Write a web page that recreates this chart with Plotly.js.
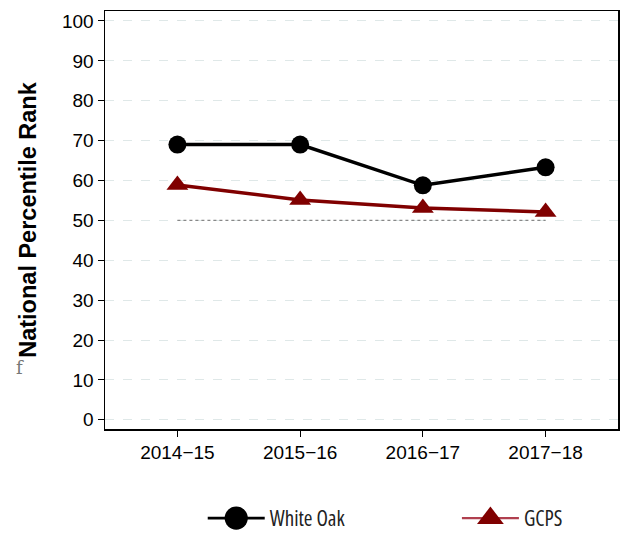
<!DOCTYPE html>
<html>
<head>
<meta charset="utf-8">
<script src="https://cdn.plot.ly/plotly-3.0.1.min.js"></script>
<style>
html,body{margin:0;padding:0;background:#fff;}
#chart{width:623px;height:534px;}
#chart svg text.legendtext, #chart .legend2 text, #chart .legend text{font-stretch:75% !important; font-weight:500 !important;}
#chart .legend2 .legendlines path{stroke:#b0404f !important; stroke-width:2.2px !important;}
#chart .legend .legendlines path{stroke-width:2.6px !important;}
</style>
</head>
<body>
<div id="chart"></div>
<script>
var years = ["2014\u221215", "2015\u221216", "2016\u221217", "2017\u221218"];
var whiteOak = [69, 69, 58.8, 63.3];
var gcps = [58.9, 55.1, 53.1, 52.1];
var reference = [50, 50, 50, 50];
var yTicks = [0, 10, 20, 30, 40, 50, 60, 70, 80, 90, 100];

var legendFont = {size: 21, weight: 500, family: "Open Sans, DejaVu Sans, sans-serif", color: "#222"};

var traces = [
  {x: years, y: reference, type: "scatter", mode: "lines", showlegend: false, hoverinfo: "skip",
   line: {color: "#888888", width: 1.2, dash: "dot"}},
  {x: years, y: whiteOak, type: "scatter", mode: "lines+markers", name: "White Oak", legend: "legend",
   line: {color: "#000000", width: 3.5}, marker: {symbol: "circle", size: 18, color: "#000000"}},
  {x: years, y: gcps, type: "scatter", mode: "lines+markers", name: "GCPS", legend: "legend2",
   line: {color: "#800000", width: 3.5}, marker: {symbol: "triangle-up", size: 19, color: "#800000"}}
];

var layout = {
  width: 623, height: 534,
  margin: {l: 105, r: 5, t: 11, b: 105, autoexpand: false},
  paper_bgcolor: "#ffffff", plot_bgcolor: "#ffffff",
  font: {family: "Liberation Sans, Arial, sans-serif", color: "#000"},
  xaxis: {
    type: "category", range: [-0.59, 3.59],
    showgrid: false, zeroline: false,
    showline: true, linecolor: "#000", linewidth: 1.5, mirror: true,
    ticks: "outside", ticklen: 6, tickwidth: 1, tickcolor: "#000",
    tickfont: {size: 19, family: "Liberation Sans, Arial, sans-serif"}
  },
  yaxis: {
    range: [-2.3, 102.5], tickvals: yTicks,
    showgrid: true, gridcolor: "#dfe8e8", griddash: "dash", gridwidth: 1,
    zeroline: false,
    showline: true, linecolor: "#000", linewidth: 1.5, mirror: true,
    ticks: "outside", ticklen: 6, tickwidth: 1, tickcolor: "#000",
    tickfont: {size: 19, family: "Liberation Sans, Arial, sans-serif"},
    title: {text: "<b>National Percentile Rank</b>", font: {size: 23.5}, standoff: 19}
  },
  showlegend: true,
  legend: {
    orientation: "h", x: 0.1905, xanchor: "left", y: -0.214, yanchor: "middle",
    font: legendFont, itemwidth: 57, bgcolor: "rgba(0,0,0,0)"
  },
  legend2: {
    orientation: "h", x: 0.686, xanchor: "left", y: -0.214, yanchor: "middle",
    font: legendFont, itemwidth: 57, bgcolor: "rgba(0,0,0,0)"
  },
  annotations: [
    {text: "f", xref: "paper", yref: "paper", x: -0.178, y: 0.117, showarrow: false,
     font: {size: 18, color: "#777", family: "DejaVu Serif, serif"}}
  ]
};

Plotly.newPlot("chart", traces, layout, {displayModeBar: false, staticPlot: true}).then(function (gd) {
  gd.querySelectorAll(".legendpoints path.scatterpts").forEach(function (p) {
    var t = p.getAttribute("transform") || "";
    p.setAttribute("transform", t + " scale(1.45)");
  });
});
</script>
</body>
</html>
